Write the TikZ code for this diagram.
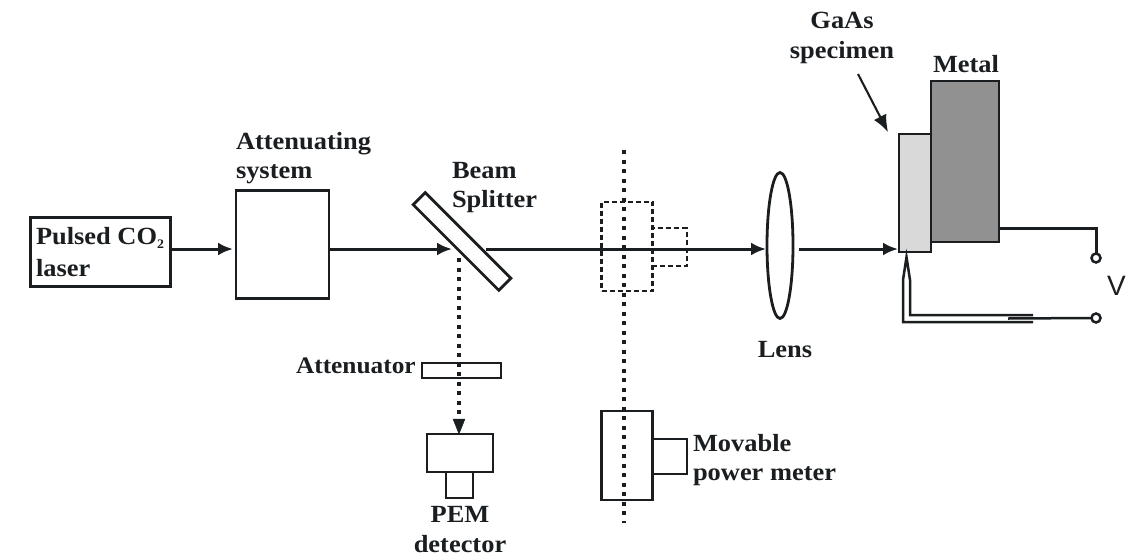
\documentclass[tikz,border=0pt]{standalone}
\usepackage{fontspec}
\setmainfont[FakeStretch=1.07]{Liberation Serif}
\newfontfamily\vfont{Liberation Sans}
\usetikzlibrary{arrows.meta,shapes.geometric}
\definecolor{ink}{HTML}{1A1E20}
\newcommand{\lowtwo}{\raisebox{-4pt}{\fontsize{13}{13}\selectfont 2}}
\tikzset{
  x=1pt,y=-1pt,
  every node/.style={inner sep=0pt,outer sep=0pt,text=ink},
  box/.style={draw=ink,line width=2.8pt,rectangle,minimum width=#1},
  box/.default=10pt,
  dbox/.style={draw=ink,line width=2.6pt,rectangle,dash pattern=on 5pt off 3pt},
  wire/.style={draw=ink,line width=3pt},
  beam/.style={wire,-{Latex[length=15pt,width=13pt]}},
  dots/.style={draw=ink,line width=3.2pt,dash pattern=on 4pt off 5.5pt},
  lab/.style={anchor=base west,font=\fontsize{24.7}{28}\selectfont\bfseries},
  labc/.style={anchor=base,font=\fontsize{24.7}{28}\selectfont\bfseries}
}
\begin{document}
\begin{tikzpicture}
\useasboundingbox (0,0) rectangle (1142,557);
% boxes
\node[box=140pt,minimum height=69pt] (laser) at (100.5,252) {};
\node[box=93pt,minimum height=108pt] (att) at (282.5,244.5) {};
\node[box=121pt,minimum height=17pt,rotate=-45] (split) at (462,241.5) {};
\node[box=79pt,minimum height=15pt] (atn) at (461.5,370.5) {};
\node[box=66pt,minimum height=38pt] (pem) at (460,453) {};
\node[box=27pt,minimum height=26pt] (pemb) at (459.5,485) {};
\node[box=51pt,minimum height=89pt] (meter) at (627,455.5) {};
\node[box=34.5pt,minimum height=35pt] (meterb) at (669.7,456.5) {};
\node[draw=ink,line width=2.8pt,ellipse,minimum width=26pt,minimum height=146pt] (lens) at (780,245.5) {};
\node[draw=ink,line width=2.8pt,fill=black!43!white,rectangle,minimum width=68pt,minimum height=161pt] (metal) at (965,161.5) {};
\node[draw=ink,line width=2.8pt,fill=black!15!white,rectangle,minimum width=32pt,minimum height=118pt] (gaas) at (915,193) {};
\node[draw=ink,line width=2.5pt,circle,minimum size=9pt] (tp) at (1096,258) {};
\node[draw=ink,line width=2.5pt,circle,minimum size=9pt] (tn) at (1096,318) {};
% axis and dashed meter
\coordinate (axT) at (624,150);
\coordinate (axB) at (624,523);
\draw[dots] (axT) -- (axB);
\node[dbox,minimum width=51pt,minimum height=89pt] (gmeter) at (627,246.5) {};
\node[dbox,minimum width=34.5pt,minimum height=38pt] (gmeterb) at (669.7,247) {};
% beam
\coordinate (b0) at (170,249);
\coordinate (b1) at (233,249);
\coordinate (b2) at (329,249);
\coordinate (b3) at (452,249);
\coordinate (b4) at (486,249);
\coordinate (b5) at (766,249);
\coordinate (b6) at (793,249);
\coordinate (b7) at (898,249);
\draw[beam] (b0) -- (b1);
\draw[beam] (b2) -- (b3);
\draw[beam] (b4) -- (b5);
\draw[beam] (b6) ++(6,0) -- (b7);
% reflected beam
\coordinate (r0) at (459,258);
\coordinate (r1) at (459,434);
\draw[dots] (r0) -- (459,424);
\draw[draw=ink,fill=ink] (r1) -- (453,419) -- (465,419) -- cycle;
% pointer
\coordinate (p0) at (858,74);
\coordinate (p1) at (888,132);
\draw[wire,line width=2.1pt,-{Latex[length=17pt,width=14pt]}] (p0) -- (p1);
% wires
\coordinate (w0) at (999,228);
\coordinate (w1) at (1096,228);
\draw[wire] (w0) -- (w1) -- (tp.north);
\coordinate (c0) at (1033,322);
\coordinate (c1) at (903,322);
\coordinate (c2) at (903,280);
\coordinate (c3) at (906.5,257);
\coordinate (c4) at (910,280);
\coordinate (c5) at (910,315);
\coordinate (c6) at (1033,315);
\draw[wire,line width=2.5pt,line join=miter] (c0) -- (c1) -- (c2) -- (c3) -- (c4) -- (c5) -- (c6);
\coordinate (c7) at (1008,318.5);
\draw[wire,line width=2.5pt] (c7) -- (tn.west);
% labels
\node[lab] (t1) at (236,149) {Attenuating};
\node[lab] (t2) at (236,178) {system};
\node[lab] (t3) at (36,244) {Pulsed CO\lowtwo};
\node[lab] (t4) at (36,276) {laser};
\node[lab] (t5) at (452,178) {Beam};
\node[lab] (t6) at (452,207) {Splitter};
\node[lab,font=\fontsize{23.7}{28}\selectfont\bfseries] (t7) at (296,373) {Attenuator};
\node[labc] (t8) at (460,522) {PEM};
\node[labc] (t9) at (460,552) {detector};
\node[lab] (t10) at (693,451) {Movable};
\node[lab] (t11) at (693,480) {power meter};
\node[labc] (t12) at (785,357) {Lens};
\node[labc] (t13) at (842,28) {GaAs};
\node[labc] (t14) at (842,58) {specimen};
\node[lab] (t15) at (933,72) {Metal};
\node[anchor=base west,font=\vfont\fontsize{28}{30}\selectfont] (t16) at (1107,295) {V};
\end{tikzpicture}
\end{document}
